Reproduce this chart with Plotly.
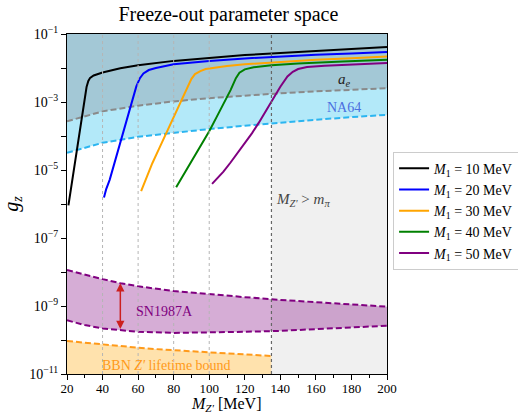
import math
import plotly.graph_objects as go

# ---------------- data ----------------
M_black = [20.8, 22, 24, 26, 28, 30, 31, 32, 33, 35, 40, 50, 60, 80, 100, 120, 140, 160, 180, 200]
g_black = [9.12e-7, 2.34e-6, 1.15e-5, 5.50e-5, 2.69e-4, 1.32e-3, 2.75e-3, 4.17e-3, 5.13e-3, 6.03e-3,
           7.41e-3, 9.77e-3, 1.20e-2, 1.62e-2, 2.00e-2, 2.40e-2, 2.75e-2, 3.16e-2, 3.63e-2, 4.17e-2]

M_blue = [40.8, 42, 44, 48, 52, 56, 59, 61, 63, 66, 70, 80, 100, 120, 140, 160, 180, 200]
g_blue = [1.55e-6, 2.69e-6, 5.13e-6, 2.82e-5, 1.51e-4, 8.32e-4, 2.88e-3, 5.01e-3, 6.92e-3, 8.71e-3,
          1.00e-2, 1.29e-2, 1.62e-2, 1.91e-2, 2.19e-2, 2.45e-2, 2.69e-2, 2.95e-2]

M_orange = [61.7, 64, 68, 72, 76, 80, 84, 88, 90, 92, 95, 98, 110, 120, 140, 160, 180, 200]
g_orange = [2.40e-6, 5.01e-6, 1.58e-5, 4.47e-5, 1.26e-4, 3.55e-4, 1.05e-3, 3.02e-3, 4.79e-3, 6.61e-3,
            8.13e-3, 9.33e-3, 1.15e-2, 1.29e-2, 1.51e-2, 1.74e-2, 1.95e-2, 2.19e-2]

M_green = [81.4, 84, 88, 92, 96, 100, 104, 108, 112, 115, 117, 120, 125, 135, 150, 175, 200]
g_green = [3.09e-6, 5.25e-6, 1.20e-5, 2.69e-5, 6.17e-5, 1.38e-4, 3.47e-4, 8.51e-4, 2.24e-3, 5.01e-3,
           7.24e-3, 9.12e-3, 1.05e-2, 1.20e-2, 1.35e-2, 1.55e-2, 1.74e-2]

M_purple = [101.6, 104, 108, 112, 116, 120, 124, 128, 132, 136, 140, 144, 147, 150, 155, 165, 180, 200]
g_purple = [3.89e-6, 5.25e-6, 8.91e-6, 1.66e-5, 3.16e-5, 6.03e-5, 1.20e-4, 2.51e-4, 5.62e-4, 1.26e-3,
            2.82e-3, 5.62e-3, 7.76e-3, 9.33e-3, 1.07e-2, 1.17e-2, 1.29e-2, 1.41e-2]

series_labels = ["10", "20", "30", "40", "50"]

M_bound = [20, 40, 60, 80, 100, 120, 140, 160, 180, 200]
g_ae = [2.7e-4, 5.3e-4, 7.8e-4, 1.04e-3, 1.3e-3, 1.55e-3, 1.8e-3, 2.05e-3, 2.3e-3, 2.55e-3]
g_na64 = [3.2e-5, 6.3e-5, 9.5e-5, 1.25e-4, 1.6e-4, 2.0e-4, 2.5e-4, 3.0e-4, 3.6e-4, 4.2e-4]

M_sn = [20, 30, 40, 50, 60, 80, 100, 120, 140, 160, 180, 200]
g_sn_upper = [1.15e-8, 8.32e-9, 6.17e-9, 4.68e-9, 3.80e-9, 2.75e-9, 2.19e-9, 1.82e-9, 1.51e-9,
              1.29e-9, 1.10e-9, 9.55e-10]
g_sn_lower = [3.80e-10, 2.75e-10, 2.19e-10, 1.91e-10, 1.74e-10, 1.62e-10, 1.66e-10, 1.74e-10,
              1.86e-10, 2.09e-10, 2.34e-10, 2.63e-10]

M_bbn = [20, 35, 50, 65, 80, 100, 120, 135]
g_bbn = [9.33e-11, 7.76e-11, 6.61e-11, 5.62e-11, 5.01e-11, 4.27e-11, 3.72e-11, 3.39e-11]

m_pi = 135
x_dotted = [40, 60, 80, 100]
M_arrow = 50
g_arrow_top = 4.68e-9
g_arrow_bottom = 1.91e-10

x_min, x_max = 20, 200
y_min, y_max = 1e-11, 1e-1
x_ticks = [20, 40, 60, 80, 100, 120, 140, 160, 180, 200]
y_exp = list(range(-11, 0))

# ---------------- figure ----------------
FONT = "Liberation Serif, Times New Roman, serif"
fig = go.Figure()

fig.add_trace(go.Scatter(
    x=M_bound + [x_max, x_min], y=g_na64 + [y_max, y_max],
    fill="toself", fillcolor="#b3e9f9", line=dict(width=0), mode="lines",
    showlegend=False, hoverinfo="skip"))
fig.add_trace(go.Scatter(
    x=M_bound + [x_max, x_min], y=g_ae + [y_max, y_max],
    fill="toself", fillcolor="#a3c8d6", line=dict(width=0), mode="lines",
    showlegend=False, hoverinfo="skip"))
fig.add_trace(go.Scatter(
    x=M_sn + M_sn[::-1], y=g_sn_upper + g_sn_lower[::-1],
    fill="toself", fillcolor="rgba(128,0,128,0.32)", line=dict(width=0), mode="lines",
    showlegend=False, hoverinfo="skip"))
fig.add_trace(go.Scatter(
    x=M_bbn + [M_bbn[-1], M_bbn[0]], y=g_bbn + [y_min, y_min],
    fill="toself", fillcolor="rgba(255,165,0,0.32)", line=dict(width=0), mode="lines",
    showlegend=False, hoverinfo="skip"))

dash = "6px,3px"
for xs, ys, col in [(M_bound, g_ae, "#8a8a8a"), (M_bound, g_na64, "#2bb5f0"),
                    (M_sn, g_sn_upper, "#800080"), (M_sn, g_sn_lower, "#800080"),
                    (M_bbn, g_bbn, "#ff9a1a")]:
    fig.add_trace(go.Scatter(x=xs, y=ys, mode="lines",
                             line=dict(color=col, width=2, dash=dash),
                             showlegend=False, hoverinfo="skip"))

curves = [(M_black, g_black, "black"), (M_blue, g_blue, "blue"),
          (M_orange, g_orange, "orange"), (M_green, g_green, "green"),
          (M_purple, g_purple, "purple")]
for (xs, ys, col), lab in zip(curves, series_labels):
    fig.add_trace(go.Scatter(x=xs, y=ys, mode="lines",
                             line=dict(color=col, width=2),
                             name=f"<i>M</i><sub>1</sub> = {lab} MeV"))

shapes = [dict(type="rect", xref="x", yref="paper", x0=m_pi, x1=x_max, y0=0, y1=1,
               fillcolor="#f0f0f0", line=dict(width=0), layer="below")]
for xv in x_dotted:
    shapes.append(dict(type="line", xref="x", yref="paper", x0=xv, x1=xv, y0=0, y1=1,
                       line=dict(color="#b5b5b5", width=1, dash="dot"), layer="above"))
shapes.append(dict(type="line", xref="x", yref="paper", x0=m_pi, x1=m_pi, y0=0, y1=1,
                   line=dict(color="#666666", width=1.2, dash="dot"), layer="above"))

annotations = [
    dict(x=M_arrow, y=math.log10(g_arrow_top), ax=M_arrow, ay=math.log10(g_arrow_bottom),
         xref="x", yref="y", axref="x", ayref="y", text="", showarrow=True,
         arrowhead=2, startarrowhead=2, arrowside="end+start", arrowsize=1.1,
         arrowwidth=1.5, arrowcolor="#cc1f1f"),
    dict(x=176, y=-2.35, xref="x", yref="y", text="<i>a</i><sub><i>e</i></sub>",
         showarrow=False, font=dict(family=FONT, size=15, color="#222222")),
    dict(x=176, y=-3.17, xref="x", yref="y", text="NA64", showarrow=False,
         font=dict(family=FONT, size=14, color="#4b6fe0")),
    dict(x=153, y=-5.88, xref="x", yref="y",
         text="<i>M</i><sub><i>Z'</i></sub> > <i>m</i><sub><i>π</i></sub>",
         showarrow=False, font=dict(family=FONT, size=15, color="#444444")),
    dict(x=75, y=-9.17, xref="x", yref="y", text="SN1987A", showarrow=False,
         font=dict(family=FONT, size=14, color="#800080")),
    dict(x=76, y=-10.74, xref="x", yref="y", text="BBN <i>Z'</i> lifetime bound",
         showarrow=False, font=dict(family=FONT, size=14, color="#ff9a1a")),
    # x-axis title
    dict(x=0.497, y=-0.09, xref="paper", yref="paper", xanchor="center", yanchor="middle",
         text="<i>M</i><sub><i>Z'</i></sub> [MeV]", showarrow=False,
         font=dict(family=FONT, size=16, color="black")),
]

y_ticktext = [f"10<sup>−{-e}</sup>" if (e % 2 != 0) else "" for e in y_exp]

fig.update_layout(
    width=518, height=413,
    margin=dict(l=67, r=131, t=34, b=39, autoexpand=False),
    paper_bgcolor="white", plot_bgcolor="white",
    font=dict(family=FONT, size=14, color="black"),
    title=dict(text="Freeze-out parameter space", xref="container", x=0.441, xanchor="center",
               yref="container", y=0.966, yanchor="middle", font=dict(family=FONT, size=20)),
    shapes=shapes, annotations=annotations,
    legend=dict(x=1.019, y=0.654, xanchor="left", yanchor="top",
                bordercolor="#cccccc", borderwidth=1, bgcolor="white",
                font=dict(family=FONT, size=14), tracegroupgap=0),
    xaxis=dict(range=[x_min, x_max], tickmode="array", tickvals=x_ticks, automargin=False,
               ticks="outside", ticklen=5, tickcolor="black", showgrid=False,
               zeroline=False, showline=True, linecolor="black", linewidth=1, mirror=True,
               minor=dict(dtick=10, ticks="outside", ticklen=3, tickcolor="black", showgrid=False),
               tickfont=dict(family=FONT, size=13), ticklabelstandoff=-3),
    yaxis=dict(type="log", range=[-11, -1], tickmode="array", automargin=False,
               tickvals=[10.0 ** e for e in y_exp], ticktext=y_ticktext,
               ticks="outside", ticklen=5, tickcolor="black", showgrid=False,
               zeroline=False, showline=True, linecolor="black", linewidth=1, mirror=True,
               tickfont=dict(family=FONT, size=14),
               title=dict(text="<i>g</i><sub><i>z</i></sub>", standoff=8,
                          font=dict(family=FONT, size=20))),
)

# remove the default page margin so the figure fills the 518x413 window exactly
fig.write_html("out.html", config={"displayModeBar": False},
               post_script="document.body.style.margin='0px';")
